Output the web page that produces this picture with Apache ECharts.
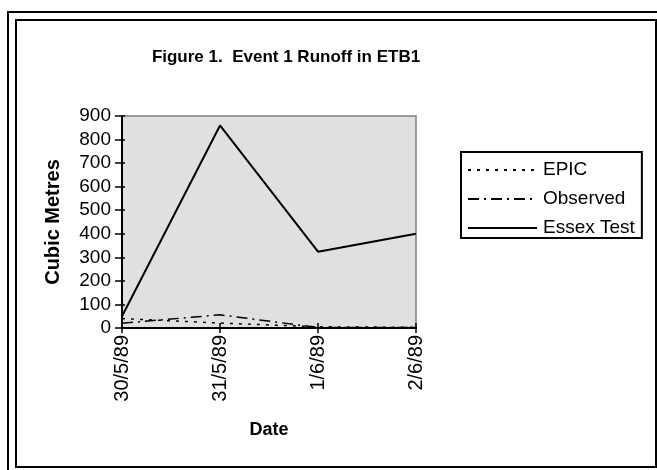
<!DOCTYPE html>
<html><head><meta charset="utf-8">
<script src="https://cdn.jsdelivr.net/npm/echarts@6/dist/echarts.min.js"></script>
<style>html,body{margin:0;padding:0;background:#fff}#c{width:657px;height:470px}</style>
</head><body><div id="c"></div>
<script>
const categories = ['30/5/89','31/5/89','1/6/89','2/6/89'];
const epic = [40, 21, 5, 3];
const observed = [20, 56, 2, 2];
const essexTest = [50, 860, 324, 400];
const yTicks = [0,100,200,300,400,500,600,700,800,900];

const F = 'Arial, "Liberation Sans", sans-serif';
const chart = echarts.init(document.getElementById('c'), null, {renderer:'canvas'});
const L = 122, T = 116, W = 294, H = 212;
chart.setOption({
  animation:false,
  backgroundColor:'#fff',
  title:{text:'Figure 1.  Event 1 Runoff in ETB1', left:281, top:44, textAlign:'center',
    textStyle:{fontFamily:F, fontSize:17, fontWeight:'bold', color:'#000'}},
  legend:{left:461, top:152, orient:'vertical',
    borderColor:'#000', borderWidth:2, padding:[8,7,0,6], itemGap:9,
    itemWidth:69, itemHeight:14, backgroundColor:'#fff',
    itemStyle:{opacity:0},
    textStyle:{fontFamily:F, fontSize:19, color:'#000', lineHeight:20, padding:[0,0,0,1]},
    data:['EPIC','Observed','Essex Test']},
  grid:{left:L, top:T, width:W, height:H, show:true, backgroundColor:'#e0e0e0', borderColor:'#808080', borderWidth:1.5},
  xAxis:[{type:'category', data:categories, boundaryGap:false,
    name:'Date', nameLocation:'middle', nameGap:93,
    nameTextStyle:{fontFamily:F, fontSize:18, fontWeight:'bold', color:'#000'},
    axisLine:{lineStyle:{color:'#000', width:2}},
    axisTick:{show:true, inside:false, length:5, lineStyle:{color:'#000', width:1.5}},
    axisLabel:{rotate:90, fontFamily:F, fontSize:20, color:'#000', margin:7, interval:0},
    splitLine:{show:false}},
   {type:'category', data:categories, boundaryGap:false, position:'bottom',
    axisLine:{show:false}, axisLabel:{show:false},
    axisTick:{show:true, inside:true, length:5, lineStyle:{color:'#000', width:1.5}}, splitLine:{show:false}}],
  yAxis:[{type:'value', min:0, max:900, interval:100,
    name:'Cubic Metres', nameLocation:'middle', nameGap:59, nameRotate:90,
    nameTextStyle:{fontFamily:F, fontSize:20, fontWeight:'bold', color:'#000'},
    axisLine:{show:true, lineStyle:{color:'#000', width:2}},
    axisTick:{show:true, inside:false, length:7, lineStyle:{color:'#000', width:1.5}},
    axisLabel:{fontFamily:F, fontSize:19, color:'#000', margin:11,
      formatter:v=>yTicks.includes(v)?String(v):''},
    splitLine:{show:false}},
   {type:'value', min:0, max:900, interval:100, position:'left',
    axisLine:{show:false}, axisLabel:{show:false},
    axisTick:{show:true, inside:true, length:3, lineStyle:{color:'#000', width:1.5}}, splitLine:{show:false}}],
  graphic:[
    {type:'rect', shape:{x:8, y:12, width:660, height:470}, style:{fill:'none', stroke:'#000', lineWidth:2}, z:-1},
    {type:'rect', shape:{x:16, y:20, width:640, height:447}, style:{fill:'none', stroke:'#000', lineWidth:2}, z:-1}
  ],
  series:[
    {name:'EPIC', type:'line', data:epic, symbol:'none', color:'#000',
      lineStyle:{color:'#000', width:1.5, type:[3,6]}},
    {name:'Observed', type:'line', data:observed, symbol:'none', color:'#000',
      lineStyle:{color:'#000', width:1.5, type:[11,5,2,5]}},
    {name:'Essex Test', type:'line', data:essexTest, symbol:'none', color:'#000',
      lineStyle:{color:'#000', width:2, type:'solid'}}
  ]
});
</script></body></html>
